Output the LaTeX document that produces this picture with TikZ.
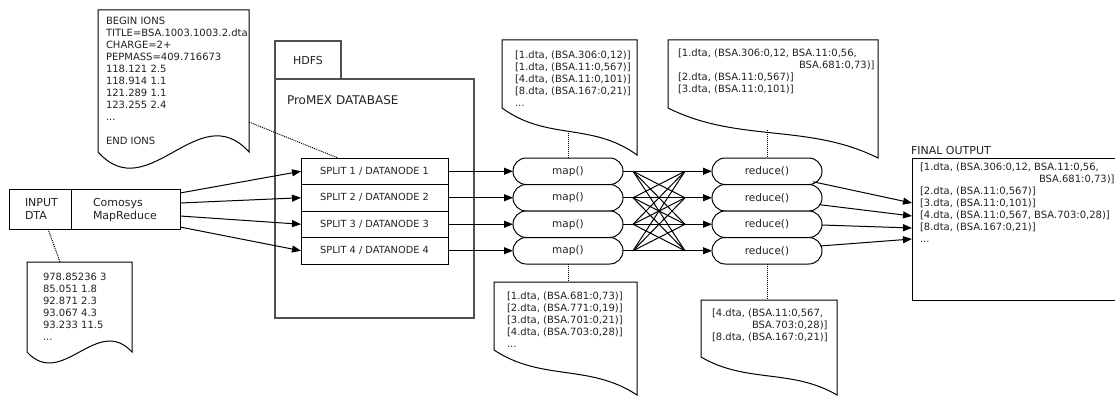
\documentclass[tikz,border=0pt]{standalone}
\usepackage{fontspec}
\setmainfont{DejaVu Sans}
\usetikzlibrary{shapes.misc,arrows.meta,calc}
\definecolor{txt}{HTML}{222222}
\definecolor{hdfsc}{HTML}{505050}
\newcommand\wavedoc[5]{%
  \draw[docline] (#1,#2) -- (#3,#2) -- (#3,#4)
    .. controls ({#1+(#3-#1)*2/3},{#4-#5}) and ({#1+(#3-#1)/3},{#4+#5}) .. (#1,#4) -- cycle;}
\newcommand\slantdoc[5]{%
  \draw[docline] (#1,#2) -- (#3,#2) -- (#3,#5)
    .. controls ({#1+(#3-#1)*2/3},{#4+0.3*(#5-#4)}) and ({#1+(#3-#1)/3},{#4+0.7*(#5-#4)}) .. (#1,#4) -- cycle;}
\begin{document}
\begin{tikzpicture}[x=1pt,y=-1pt,
  every node/.style={outer sep=0pt, inner sep=0pt, text=txt},
  ln/.style={line width=1pt, draw=black},
  arr/.style={line width=1pt, draw=black, -{Triangle[length=9pt,width=7pt]}},
  dotl/.style={line width=1pt, densely dotted},
  hdfs/.style={line width=1.2pt, draw=hdfsc},
  splitbox/.style={draw, line width=1pt, minimum width=147pt, minimum height=26.5pt, font=\fontsize{9.8}{12}\selectfont},
  mrbox/.style={draw, fill=white, rounded rectangle, line width=1pt, minimum width=110pt, minimum height=26.5pt, font=\fontsize{10.5}{12}\selectfont},
  body/.style={anchor=north west, align=left, font=\fontsize{10}{12}\selectfont},
  title/.style={anchor=west, font=\fontsize{11}{13}\selectfont},
  docline/.style={draw=black, line width=1pt, fill=white},
]
\useasboundingbox (0,0) rectangle (1115,396);

% HDFS container
\draw[hdfs] (275,41) rectangle (341,79);
\draw[hdfs] (275,79) rectangle (474,318);
\node[font=\fontsize{11}{13}\selectfont] (hdfslbl) at (308,60) {HDFS};
\node[anchor=west, font=\fontsize{12}{14}\selectfont] (promex) at (287,100) {ProMEX DATABASE};

% documents
\wavedoc{98}{10}{249}{152}{56}
\node[body] (mgf) at (106,17.5) {BEGIN IONS\\TITLE=BSA.1003.1003.2.dta\\CHARGE=2+\\PEPMASS=409.716673\\118.121 2.5\\118.914 1.1\\121.289 1.1\\123.255 2.4\\...\\[12pt]END IONS};
\wavedoc{27}{262}{132}{352}{38}
\node[body] (dta) at (43,273) {978.85236 3\\85.051 1.8\\92.871 2.3\\93.067 4.3\\93.233 11.5\\...};
\slantdoc{502}{40}{637}{108}{155}
\node[body] (mapout) at (515,51) {{[}1.dta, (BSA.306:0,12){]}\\{[}1.dta, (BSA.11:0,567){]}\\{[}4.dta, (BSA.11:0,101){]}\\{[}8.dta, (BSA.167:0,21){]}\\...};
\slantdoc{668}{40}{878}{108}{158}
\node[body] (redout) at (678,49) {{[}1.dta, (BSA.306:0,12, BSA.11:0,56,\\\hspace*{121pt}BSA.681:0,73){]}\\{[}2.dta, (BSA.11:0,567){]}\\{[}3.dta, (BSA.11:0,101){]}};
\slantdoc{494}{282}{637}{350}{395}
\node[body] (mapout2) at (507,292) {{[}1.dta, (BSA.681:0,73){]}\\{[}2.dta, (BSA.771:0,19){]}\\{[}3.dta, (BSA.701:0,21){]}\\{[}4.dta, (BSA.703:0,28){]}\\...};
\slantdoc{701}{300}{837}{357}{395}
\node[body] (redout2) at (712,309) {{[}4.dta, (BSA.11:0,567,\\\hspace*{40pt}BSA.703:0,28){]}\\{[}8.dta, (BSA.167:0,21){]}};

% input box
\node[draw, line width=1pt, minimum width=171pt, minimum height=40pt, anchor=north west] (input) at (9,189) {};
\draw[ln] ($(input.north west)+(62,0)$) -- ($(input.south west)+(62,0)$);
\node[anchor=north west, align=left, font=\fontsize{11}{13}\selectfont] (inlbl) at (25,198) {INPUT\\DTA};
\node[anchor=north west, align=left, font=\fontsize{11}{13}\selectfont] (cmlbl) at (93,198) {Comosys\\MapReduce};

% splits
\node[splitbox] (s1) at (374.5,171.25) {SPLIT 1 / DATANODE 1};
\node[splitbox] (s2) at (374.5,197.75) {SPLIT 2 / DATANODE 2};
\node[splitbox] (s3) at (374.5,224.25) {SPLIT 3 / DATANODE 3};
\node[splitbox] (s4) at (374.5,250.75) {SPLIT 4 / DATANODE 4};

% map / reduce
\foreach \k/\yy in {1/171.25,2/197.75,3/224.25,4/250.75}{
  \node[mrbox] (m\k) at (568,\yy) {map()};
  \node[mrbox] (r\k) at (767,\yy) {reduce()};
}

% final output
\node[draw, line width=1pt, minimum width=215pt, minimum height=142pt, anchor=north west] (final) at (912,158) {};
\node[title] (finlbl) at (911,150) {FINAL OUTPUT};
\node[body] (fintext) at (920,163) {{[}1.dta, (BSA.306:0,12, BSA.11:0,56,\\\hspace*{119pt}BSA.681:0,73){]}\\{[}2.dta, (BSA.11:0,567){]}\\{[}3.dta, (BSA.11:0,101){]}\\{[}4.dta, (BSA.11:0,567, BSA.703:0,28){]}\\{[}8.dta, (BSA.167:0,21){]}\\...};

% input -> splits
\draw[arr] ([yshift=16pt]input.east) -- (s1.west);
\draw[arr] ([yshift=6pt]input.east) -- (s2.west);
\draw[arr] ([yshift=-7pt]input.east) -- (s3.west);
\draw[arr] ([yshift=-18pt]input.east) -- (s4.west);

% splits -> map -> reduce
\foreach \k in {1,...,4}{
  \draw[arr] (s\k.east) -- (m\k.west);
  \draw[arr] (m\k.east) -- (r\k.west);
}
\foreach \i in {1,...,4}{
  \foreach \j in {1,...,4}{
    \ifnum\i=\j\relax\else
      \draw[ln] ($(m\i.east)+(10,0)$) -- ($(r\j.west)+(-27,0)$);
    \fi
  }
}

% reduce -> final
\draw[arr] ($(r1.center)+(46,10.5)$) -- ([yshift=26pt]final.west);
\draw[arr] ($(r2.center)+(53,7)$) -- ([yshift=13pt]final.west);
\draw[arr] ($(r3.center)+(55,0.75)$) -- ([yshift=1pt]final.west);
\draw[arr] ($(r4.center)+(53,-4.75)$) -- ([yshift=-10pt]final.west);

% dotted links
\coordinate (mgfr) at (249,122);
\draw[dotl] (mgfr) -- ($(s1.north west)+(37,0)$);
\coordinate (dtatop) at (60,262);
\draw[dotl] ($(input.south west)+(39,0)$) -- (dtatop);
\coordinate (mdoc) at (568,131);
\draw[dotl] (mdoc) -- (m1.north);
\coordinate (mdoc2) at (568,282);
\draw[dotl] (m4.south) -- (mdoc2);
\coordinate (rdoc) at (767,130);
\draw[dotl] (rdoc) -- (r1.north);
\coordinate (rdoc2) at (767,300);
\draw[dotl] (r4.south) -- (rdoc2);
\end{tikzpicture}
\end{document}
